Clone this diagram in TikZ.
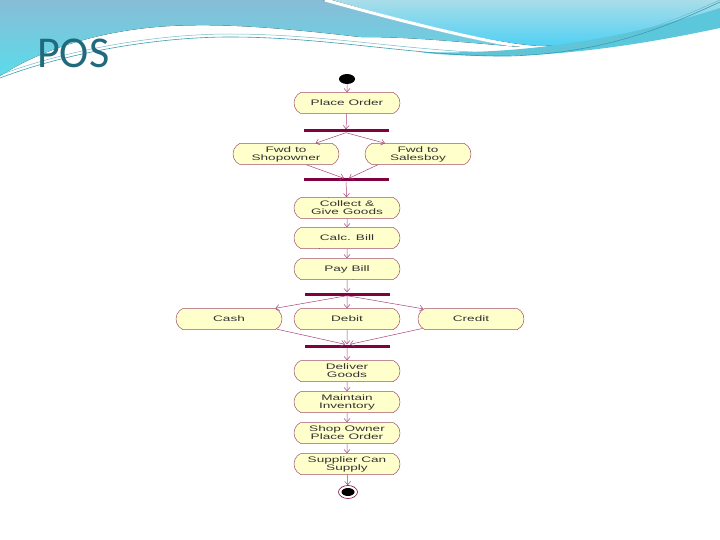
\documentclass[tikz,border=0pt]{standalone}
\usepackage{fontspec}
\setmainfont{Liberation Sans}
\newfontfamily\titlefont{Carlito}
\newfontfamily\diagfont[FakeStretch=1.7]{Liberation Sans}
\usetikzlibrary{shapes.misc,shapes.geometric,arrows.meta}
\definecolor{bluebg}{HTML}{88BDD6}
\definecolor{cyanbg}{HTML}{5ADCEA}
\definecolor{lightbg}{HTML}{A8DDE9}
\definecolor{swoosh}{HTML}{5CC6DA}
\definecolor{tealline}{HTML}{3A9CAE}
\definecolor{titlecol}{HTML}{1F6A7C}
\definecolor{actfill}{HTML}{FFFFCC}
\definecolor{actdraw}{HTML}{A0506A}
\definecolor{barcol}{HTML}{800040}
\definecolor{arrcol}{HTML}{A8437A}
\tikzset{
  act/.style={rounded rectangle, rounded rectangle arc length=130, draw=actdraw, line width=0.5pt,
    fill=actfill, minimum width=108pt, minimum height=21pt, inner sep=1pt, align=center,
    font=\diagfont\fontsize{8}{8}\selectfont, text=black!80},
  syncbar/.style={rectangle, fill=barcol, minimum width=85pt, minimum height=3pt, inner sep=0pt},
  flow/.style={draw=arrcol, line width=0.5pt, -{Straight Barb[length=3.5pt,width=6pt]}},
}
\begin{document}
\begin{tikzpicture}[x=1pt,y=-1pt]
\useasboundingbox (0,0) rectangle (720,540);
% background decoration
\fill[top color=bluebg, bottom color=cyanbg] (0,0) -- (322,0) .. controls (400,22) and (470,40) .. (520,47)
  .. controls (450,41) and (410,37) .. (360,37) .. controls (290,29) and (230,23) .. (170,26)
  .. controls (100,30) and (40,50) .. (0,76) -- cycle;
\fill[top color=lightbg, bottom color=lightbg!80!blue!60!cyan] (332,0) -- (720,0) -- (720,10) .. controls (650,34) and (600,44) .. (540,46)
  .. controls (500,44) and (420,26) .. (332,0) -- cycle;
\draw[white, line width=3pt] (325,0) .. controls (400,21) and (470,38) .. (512,45);
\fill[swoosh] (420,52) .. controls (520,55) and (620,40) .. (720,8) -- (720,28)
  .. controls (640,45) and (560,57) .. (480,56) .. controls (450,55) and (430,54) .. (420,52) -- cycle;
\draw[tealline, line width=0.6pt] (0,78) .. controls (60,55) and (150,37) .. (230,37)
  .. controls (330,37) and (420,57) .. (510,56) .. controls (600,53) and (660,30) .. (720,2);
\draw[tealline!70, line width=0.5pt] (0,75) .. controls (60,52) and (150,34) .. (230,34)
  .. controls (330,34) and (420,53) .. (510,53) .. controls (600,50) and (660,27) .. (720,0);
\node[font=\titlefont\fontsize{44}{44}\selectfont, text=titlecol, anchor=base west, inner sep=0pt] (title) at (37,68) {POS};
% diagram
\node[fill=black, ellipse, minimum width=16pt, minimum height=10pt, inner sep=0pt] (start) at (347,79) {};
\node[act] (po) at (347,103) {Place Order};
\node[syncbar] (b1) at (346,131) {};
\node[act] (fs) at (286,154) {Fwd to\\Shopowner};
\node[act] (fb) at (418,154) {Fwd to\\Salesboy};
\node[syncbar] (b2) at (346,180) {};
\node[act] (cg) at (347,208) {Collect \&\\Give Goods};
\node[act] (cb) at (347,238) {Calc. Bill};
\node[act] (pb) at (347,269) {Pay Bill};
\node[syncbar] (b3) at (347,294) {};
\node[act] (cash) at (229,319) {Cash};
\node[act] (debit) at (347,319) {Debit};
\node[act] (credit) at (471,319) {Credit};
\node[syncbar] (b4) at (347,346) {};
\node[act] (dg) at (347,371) {Deliver\\Goods};
\node[act] (mi) at (347,402) {Maintain\\Inventory};
\node[act] (so) at (347,433) {Shop Owner\\Place Order};
\node[act] (sc) at (347,464) {Supplier Can\\Supply};
\node[draw=barcol, line width=0.6pt, ellipse, minimum width=19pt, minimum height=13pt, inner sep=0pt] (endo) at (348,492) {};
\node[fill=black, ellipse, minimum width=13pt, minimum height=8pt, inner sep=0pt] (endi) at (348,492) {};
% flows
\draw[flow] (start) -- (po);
\draw[flow] (po) -- (b1);
\draw[flow] (b1.south) -- (fs.20);
\draw[flow] (b1.south) -- (fb.162);
\draw[flow] (fs.-28) -- ([xshift=-2pt]b2.north);
\draw[flow] (fb.-165) -- ([xshift=3pt]b2.north);
\draw[flow] (b2) -- (cg);
\draw[flow] (cg) -- (cb);
\draw[flow] (cb) -- (pb);
\draw[flow] (pb) -- (b3);
\draw[flow] (b3.south) -- (cash.13);
\draw[flow] (b3.south) -- (debit);
\draw[flow] (b3.south) -- (credit.168);
\draw[flow] (cash.-12) -- ([xshift=-2pt]b4.north);
\draw[flow] (debit) -- (b4);
\draw[flow] (credit.-169) -- ([xshift=3pt]b4.north);
\draw[flow] (b4) -- (dg);
\draw[flow] (dg) -- (mi);
\draw[flow] (mi) -- (so);
\draw[flow] (so) -- (sc);
\draw[flow] (sc) -- (endo);
\end{tikzpicture}
\end{document}
